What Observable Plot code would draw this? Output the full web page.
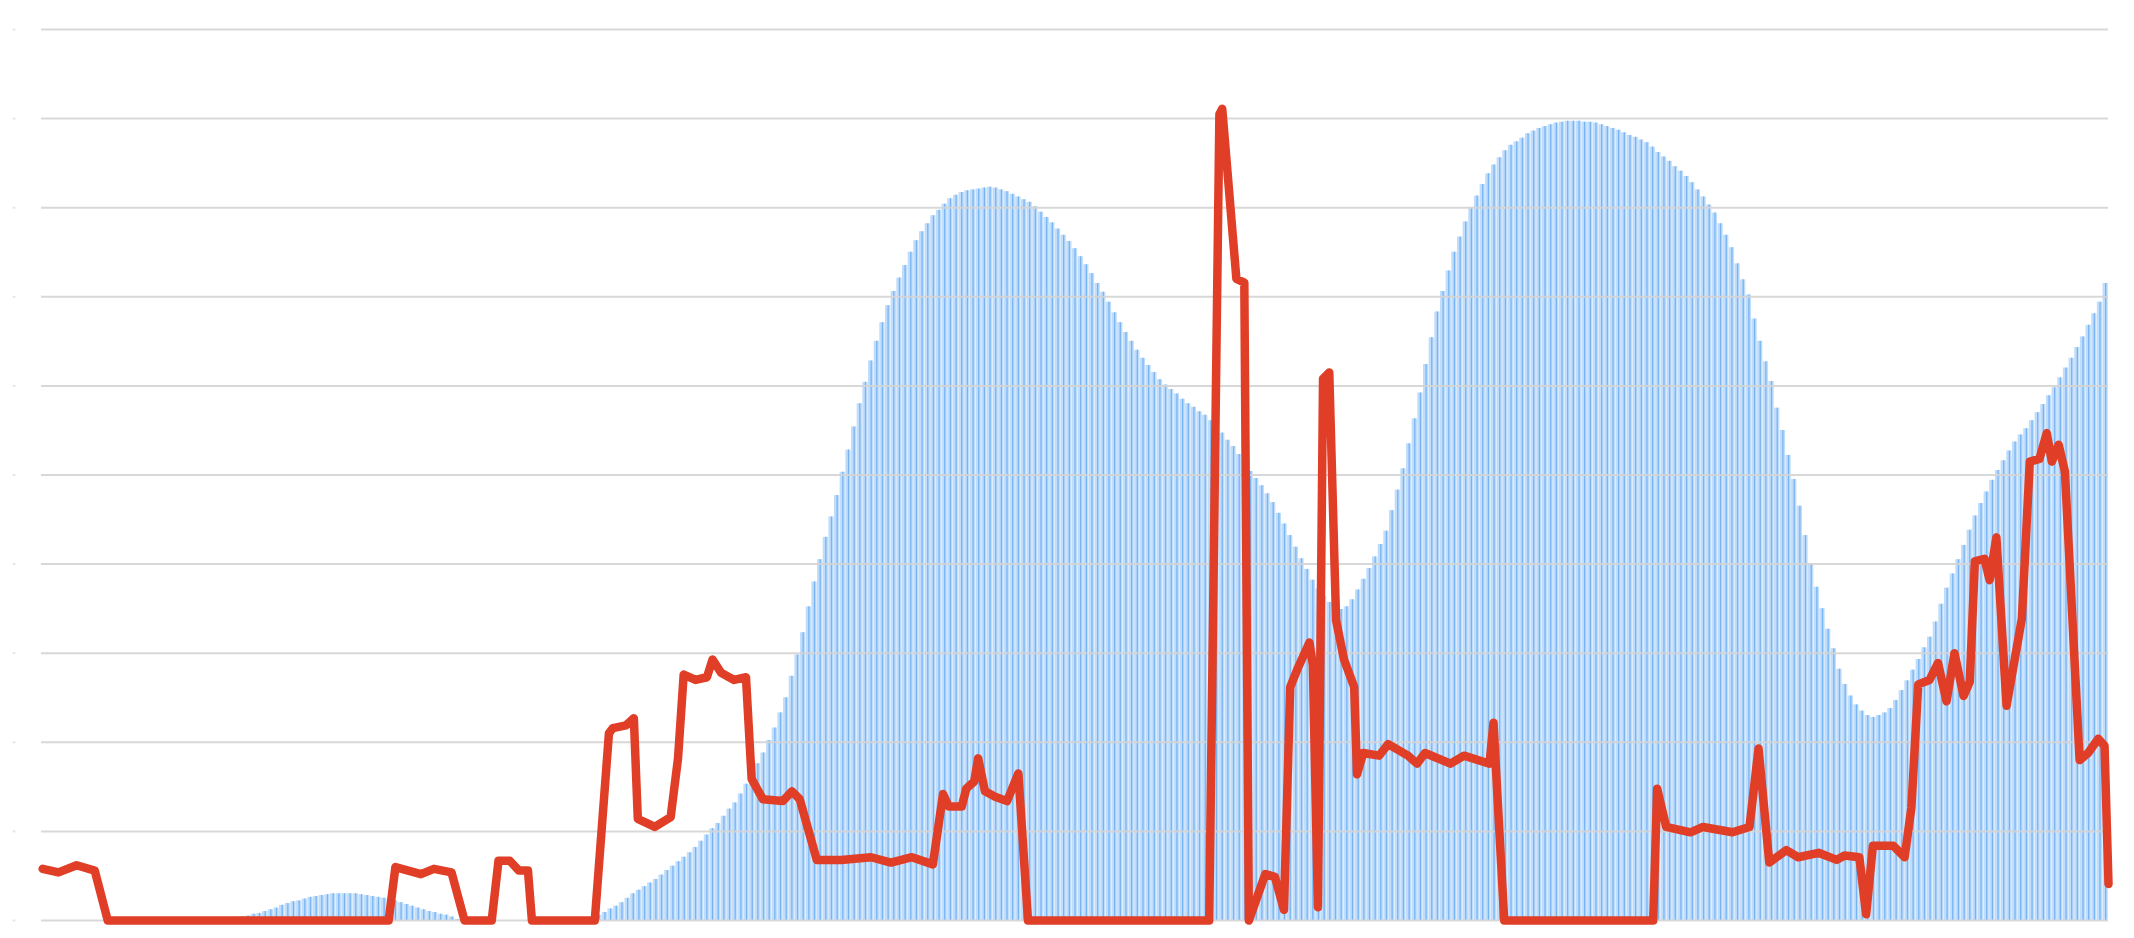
<!DOCTYPE html>
<html>
<head>
<meta charset="utf-8">
<script src="https://cdn.jsdelivr.net/npm/d3@7"></script>
<script src="https://cdn.jsdelivr.net/npm/@observablehq/plot@0.6"></script>
<style>
html,body{margin:0;padding:0;background:#fff;overflow:hidden}
#chart svg{display:block}
</style>
</head>
<body>
<div id="chart"></div>
<script>
// Blue bar series: one value per day (365 bars)
const blueValues = [
  0,0,0,0,0,0,0,0,0,0,
  0,0,0,0,0,0,0,0,0,0,
  0,0,0,0,0,0,0,0,0,0,
  0,0,0,0,0,0.4,0.5,0.7,0.8,1.0,
  1.2,1.4,1.7,1.9,2.1,2.2,2.4,2.6,2.7,2.8,
  2.9,3.0,3.0,3.0,3.0,3.0,2.9,2.8,2.7,2.6,
  2.5,2.3,2.2,2.0,1.8,1.6,1.4,1.2,1.0,0.9,
  0.7,0.6,0.4,0.1,0,0,0,0,0,0,
  0,0,0,0,0,0,0,0,0,0,
  0,0,0,0,0,0,0,0.3,0.6,0.9,
  1.3,1.6,2.0,2.5,3.0,3.4,3.8,4.2,4.6,5.1,
  5.6,6.1,6.6,7.1,7.6,8.2,8.9,9.6,10.3,10.9,
  11.7,12.5,13.2,14.2,15.3,16.4,17.6,18.8,20.2,21.6,
  23.3,25.0,27.4,29.8,32.3,35.2,38.0,40.5,43.0,45.3,
  47.7,50.3,52.8,55.4,58.0,60.4,62.8,65.0,67.1,69.0,
  70.6,72.1,73.5,75.0,76.3,77.3,78.2,79.1,79.7,80.4,
  81.0,81.4,81.7,81.9,82.0,82.1,82.2,82.3,82.2,82.0,
  81.8,81.5,81.2,80.9,80.6,80.1,79.5,78.9,78.3,77.6,
  76.9,76.2,75.4,74.5,73.6,72.6,71.5,70.5,69.4,68.2,
  67.1,66.0,65.0,64.0,63.1,62.3,61.5,60.7,60.1,59.6,
  59.1,58.5,58.0,57.6,57.1,56.7,56.1,55.4,54.7,53.9,
  53.2,52.3,51.3,50.4,49.6,48.8,47.9,46.9,45.7,44.5,
  43.2,41.9,40.6,39.4,38.2,37.2,36.4,35.7,35.1,34.9,
  35.2,36.0,37.1,38.3,39.5,40.8,42.2,43.7,46.0,48.3,
  50.7,53.5,56.3,59.2,62.4,65.4,68.3,70.6,72.9,75.0,
  76.7,78.4,80.0,81.3,82.6,83.8,84.8,85.6,86.4,87.0,
  87.4,87.8,88.3,88.6,88.9,89.1,89.3,89.5,89.6,89.7,
  89.7,89.7,89.6,89.6,89.5,89.3,89.1,88.9,88.7,88.4,
  88.1,87.9,87.6,87.3,86.8,86.2,85.7,85.2,84.6,84.1,
  83.5,82.8,82.0,81.2,80.3,79.4,78.2,76.9,75.5,73.7,
  71.9,70.2,67.5,65.0,62.7,60.5,57.5,55.0,52.2,49.5,
  46.5,43.2,40.0,37.4,35.0,32.7,30.5,28.2,26.5,25.2,
  24.2,23.5,23.0,22.8,23.0,23.3,23.8,24.7,25.8,26.9,
  28.1,29.3,30.6,31.8,33.5,35.5,37.3,38.9,40.5,42.1,
  43.8,45.4,46.8,48.1,49.4,50.5,51.6,52.7,53.7,54.5,
  55.2,56.1,57.0,57.9,58.9,59.8,60.9,62.0,63.1,64.3,
  65.5,66.8,68.1,69.4,71.5
];

// Red line: positions along the day axis and values
const redDay = [
  0.2,3.0,6.2,9.4,11.7,61.3,62.5,67.0,69.3,72.4,74.7,79.5,80.7,82.7,84.3,85.9,86.6,
  97.7,100.2,100.9,103.2,104.6,105.3,108.3,111.1,112.4,113.4,115.5,117.5,118.5,120.0,122.3,124.4,
  125.4,127.4,130.9,132.5,133.9,136.9,141.2,146.5,150.0,153.7,157.4,159.2,160.2,162.5,163.3,164.7,
  165.4,166.6,168.4,170.5,172.5,173.5,174.2,206.2,208.0,208.5,211.0,212.4,213.2,216.1,217.8,219.4,
  220.5,221.9,223.9,224.5,225.4,226.3,227.4,228.6,230.0,231.8,232.3,233.4,236.2,237.8,241.3,242.9,
  244.3,248.8,251.2,255.7,256.4,257.1,258.3,284.6,285.3,286.9,291.2,293.4,298.6,301.6,303.2,305.1,
  308.1,310.2,313.8,317.0,318.4,321.0,322.2,323.4,327.0,329.0,330.2,331.4,333.4,334.9,336.4,337.8,
  339.4,340.5,341.4,343.1,344.0,345.2,347.0,349.7,351.1,352.8,354.1,355.0,356.2,357.3,359.9,361.4,
  363.2,364.3,365.0
];
const redValue = [
  5.8,5.4,6.2,5.6,0,0,6.0,5.2,5.8,5.4,0,0,6.7,6.7,5.6,5.6,0,
  0,21,21.6,21.9,22.7,11.4,10.5,11.6,18.2,27.6,27,27.3,29.3,27.8,27,27.3,
  15.9,13.6,13.4,14.5,13.6,6.8,6.8,7.1,6.5,7.1,6.3,14.2,12.8,12.8,14.8,15.6,
  18.2,14.5,13.9,13.4,16.5,6.8,0,0,90.5,91.1,72,71.6,0,5.2,4.9,1.2,
  26.2,28.4,31.2,28.7,1.5,60.8,61.5,33.7,29.3,26.2,16.4,18.8,18.5,19.8,18.5,17.6,
  18.8,17.6,18.5,17.6,22.2,13.9,0,0,14.8,10.5,9.9,10.5,9.9,10.5,19.3,6.5,
  7.9,7.1,7.6,6.8,7.3,7.1,0.7,8.4,8.4,7.1,12.7,26.5,27,28.9,24.6,30,
  25.2,26.8,40.3,40.6,38.2,43,24.1,33.9,51.5,51.8,54.7,51.5,53.4,50.4,18,18.8,
  20.4,19.6,4.1
];

const gridTicks = [0,10,20,30,40,50,60,70,80,90,100];

const bars = blueValues.map((v, i) => ({day: i, value: v}));
const red = redDay.map((d, i) => ({day: d, value: redValue[i]}));

const chart = Plot.plot({
  width: 2134,
  height: 938,
  marginLeft: 41,
  marginRight: 26,
  marginTop: 29,
  marginBottom: 18,
  x: {domain: [0, 365], axis: null},
  y: {domain: [0, 100], axis: null},
  style: {background: "#ffffff"},
  marks: [
    Plot.rectY(bars, {x1: "day", x2: d => d.day + 1, y1: 0, y2: "value", fill: "#c0ddfb", insetLeft: 0.2, insetRight: 0.2}),
    Plot.ruleX(bars.filter(d => d.value > 0), {x: d => d.day + 0.5, y1: 0, y2: "value", stroke: "#78b4f3", strokeWidth: 1.3}),
    Plot.ruleY(gridTicks, {stroke: "#d4d4d4", strokeWidth: 2, strokeOpacity: 0.9}),
    Plot.ruleY(gridTicks, {x1: -5, x2: -4.5, stroke: "#e6e6e6", strokeWidth: 2}),
    Plot.line(red, {x: "day", y: "value", stroke: "#e03e27", strokeWidth: 8.5, strokeLinejoin: "round", strokeLinecap: "round"})
  ]
});
document.getElementById("chart").appendChild(chart);
</script>
</body>
</html>
